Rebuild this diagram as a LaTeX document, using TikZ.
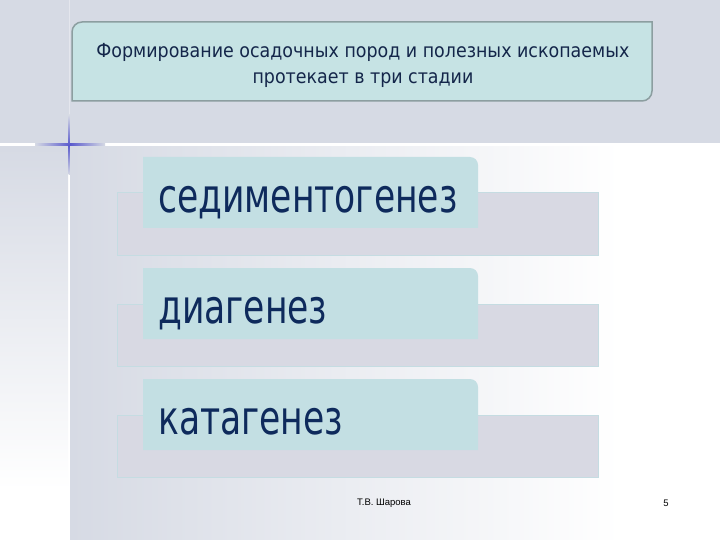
\documentclass[tikz,border=0pt]{standalone}
\usepackage{fontspec}
\setmainfont{DejaVu Sans Condensed}
\newfontfamily\footfont{Liberation Sans}
\definecolor{bandgray}{HTML}{D6DAE4}
\definecolor{tealfill}{HTML}{C3DFE3}
\definecolor{topfill}{HTML}{C6E3E4}
\definecolor{topborder}{HTML}{8C9EA0}
\definecolor{backfill}{HTML}{D8D9E3}
\definecolor{backborder}{HTML}{C5DCE2}
\definecolor{navy}{HTML}{0E2A5C}
\definecolor{topnavy}{HTML}{14264A}
\definecolor{crossblue}{HTML}{3030C0}
\tikzset{
  stagetext/.style={anchor=base west, inner sep=0pt, text=navy, font=\fontsize{40}{44}\selectfont},
  backrect/.style={fill=backfill, draw=backborder, line width=1pt},
  stagebox/.style={fill=tealfill},
}
\begin{document}
\begin{tikzpicture}[x=1pt,y=-1pt]
\useasboundingbox (0,0) rectangle (720,540);
% background
\fill[white] (0,0) rectangle (720,540);
\fill[bandgray] (0,0) rectangle (720,143);
\shade[top color=bandgray, bottom color=white] (0,147) rectangle (68,490);
\shade[left color=bandgray, right color=white] (70,147) rectangle (620,540);
\fill[white, opacity=0.35] (68.5,0) rectangle (70,143);
% cross
\shade[left color=bandgray, right color=bandgray, middle color=crossblue!80!white] (35,143.8) rectangle (105,145.2);
\shade[top color=bandgray, bottom color=bandgray, middle color=crossblue!80!white] (68.5,115) rectangle (69.8,175);
% top box
\draw[fill=topfill, draw=topborder, line width=1.5pt]
  (72,101) -- (72,32) arc[start angle=180, end angle=270, radius=10]
  -- (652,22) -- (652,91) arc[start angle=0, end angle=90, radius=10] -- cycle;
\node[text=topnavy, align=center, font=\fontsize{19.4}{26}\selectfont] (title) at (363,65)
  {Формирование осадочных пород и полезных ископаемых\\протекает в три стадии};
% stages
\foreach \y/\n/\t in {157/s1/седиментогенез, 268/s2/диагенез, 379/s3/катагенез}{
  \draw[backrect] (117,\y+36) rectangle (598,\y+98);
  \fill[stagebox] (143,\y+71) -- (143,\y) -- (470,\y)
     arc[start angle=270, end angle=360, radius=8] -- (478,\y+71) -- cycle;
  \node[stagetext] (\n) at (158,\y+55) {\scalebox{0.96}[1.17]{\t}};
}
% footer
\node[font=\footfont\fontsize{9.5}{11}\selectfont, text=black] (author) at (384,503) {Т.В. Шарова};
\node[font=\footfont\fontsize{9.5}{11}\selectfont, text=black] (page) at (666,503) {5};
\end{tikzpicture}
\end{document}
